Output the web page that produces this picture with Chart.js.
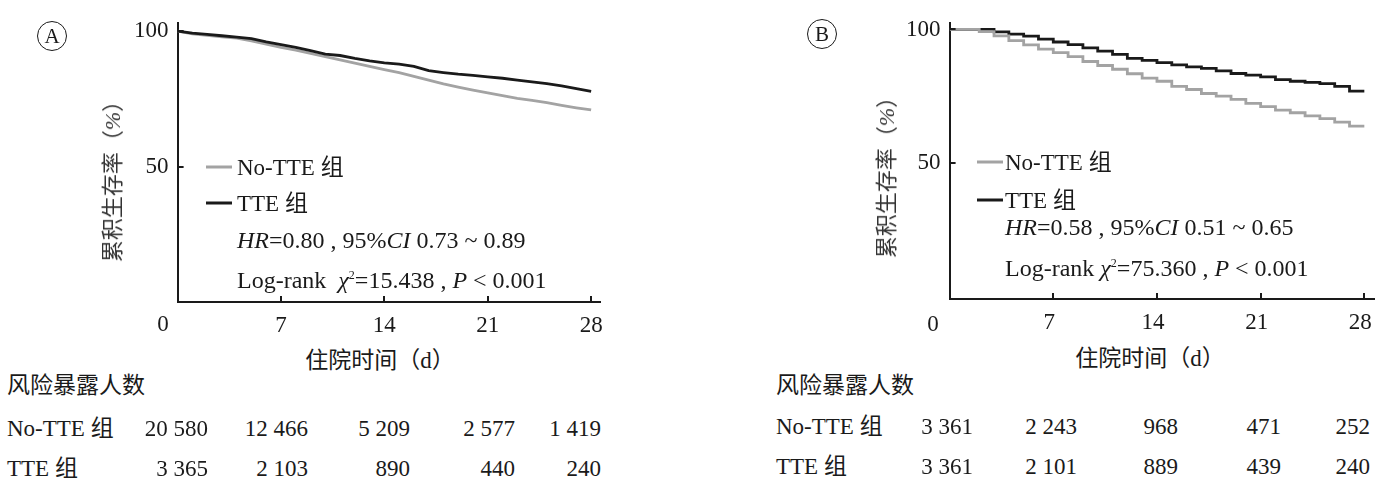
<!DOCTYPE html>
<html>
<head>
<meta charset="utf-8">
<script src="https://cdn.jsdelivr.net/npm/chart.js"></script>
<style>
    body {
        margin: 0;
        width: 1397px;
        height: 493px;
        background: #fff;
        overflow: hidden;
        position: relative;
        font-family: "Liberation Serif", "Noto Sans CJK SC", serif;
        color: #1a1a1a;
    }
    canvas { position: absolute; top: 0; }
    .t {
        position: absolute;
        white-space: nowrap;
        font-size: 23px;
        line-height: 1;
        transform: translateY(-50%);
    }
    .t.s { font-size: 24px; }
    .r { transform: translate(-100%, -50%); }
    .c { transform: translate(-50%, -50%); }
    .yt {
        position: absolute;
        white-space: nowrap;
        font-size: 22px;
        line-height: 1;
        color: #333;
        transform: translate(-50%, -50%) rotate(-90deg);
    }
    .circ {
        position: absolute;
        width: 28px;
        height: 28px;
        border: 1px solid #1a1a1a;
        border-radius: 50%;
        font-size: 21px;
        line-height: 28px;
        text-align: center;
        transform: translate(-50%, -50%);
    }
    .leg {
        position: absolute;
        height: 3px;
        width: 26px;
        transform: translateY(-50%);
    }
    sup { font-size: 12px; line-height: 0; vertical-align: 9px; }
</style>
</head>
<body>

<canvas id="chartA" width="640" height="345" style="left:0"></canvas>
<canvas id="chartB" width="625" height="345" style="left:772px"></canvas>

<script>

// ============================================
// DATA
// ============================================

const days = [0, 1, 2, 3, 4, 5, 6, 7, 8, 9, 10, 11, 12, 13, 14,
    15, 16, 17, 18, 19, 20, 21, 22, 23, 24, 25, 26, 27, 28];

// panel A survival (%)
const noTteA = [100, 99.0, 98.4, 97.9, 97.4, 96.4, 95.2, 94.0, 93.0, 91.8, 90.6,
    89.4, 88.2, 87.0, 85.8, 84.7, 83.3, 81.9, 80.5, 79.3, 78.2, 77.2, 76.2,
    75.2, 74.4, 73.6, 72.6, 71.7, 70.9];
const tteA = [100, 99.3, 98.8, 98.3, 97.8, 97.2, 96.0, 95.0, 94.0, 92.8, 91.5,
    91.0, 89.9, 89.0, 88.3, 87.8, 87.0, 85.4, 84.7, 84.1, 83.7, 83.1, 82.6,
    81.9, 81.3, 80.6, 79.8, 78.8, 77.8];

// panel B survival (%)
const noTteB = [100, 100, 99.2, 97.6, 95.8, 94.2, 92.6, 91.3, 89.8, 88.0, 86.5,
    85.1, 83.4, 81.8, 80.6, 78.7, 77.5, 76.0, 75.0, 73.8, 72.3, 71.1, 69.8,
    68.8, 67.6, 66.6, 65.3, 63.8, 63.8];
const tteB = [100, 100, 100, 99.1, 98.25, 97.5, 96.4, 95.3, 94.3, 93.1, 91.9,
    90.7, 89.2, 88.4, 87.6, 86.7, 86.0, 85.4, 84.5, 83.5, 82.9, 82.2, 81.2,
    80.6, 80.2, 79.7, 78.7, 76.9, 76.9];

const xTicks = [0, 7, 14, 21, 28];
const yTicks = [50, 100];

const riskRows = ['No-TTE 组', 'TTE 组'];
const riskNoTteA = ['20 580', '12 466', '5 209', '2 577', '1 419'];
const riskTteA = ['3 365', '2 103', '890', '440', '240'];
const riskNoTteB = ['3 361', '2 243', '968', '471', '252'];
const riskTteB = ['3 361', '2 101', '889', '439', '240'];

const GRAY = '#a3a3a3';
const BLACK = '#1a1a1a';
const FONT = 'Liberation Serif';

// ============================================
// INWARD TICK MARKS
// ============================================

const innerTicks = {
    id: 'innerTicks',
    afterDraw(chart) {
        const c = chart.ctx;
        const xs = chart.scales.x;
        const ys = chart.scales.y;
        c.save();
        c.strokeStyle = BLACK;
        c.lineWidth = 2;
        c.beginPath();
        xTicks.filter(v => v > 0).forEach(v => {
            const px = Math.round(xs.getPixelForValue(v));
            c.moveTo(px, ys.bottom);
            c.lineTo(px, ys.bottom - 6);
        });
        yTicks.forEach(v => {
            const py = Math.round(ys.getPixelForValue(v));
            c.moveTo(xs.left, py);
            c.lineTo(xs.left + 6, py);
        });
        c.stroke();
        c.restore();
    }
};

// ============================================
// CREATE CHARTS
// ============================================

function kmChart(id, noTte, tte, opt) {

    const series = [
        {
            label: 'No-TTE 组',
            data: days.map((d, i) => ({ x: d, y: noTte[i] })),
            borderColor: GRAY,
            order: opt.grayOnTop ? 0 : 1
        },
        {
            label: 'TTE 组',
            data: days.map((d, i) => ({ x: d, y: tte[i] })),
            borderColor: BLACK,
            order: opt.grayOnTop ? 1 : 0
        }
    ];

    series.forEach(s => {
        s.borderWidth = 2.8;
        s.pointRadius = 0;
        s.fill = false;
        s.tension = 0;
        s.stepped = opt.stepped;
    });

    return new Chart(document.getElementById(id), {
        type: 'line',
        data: { datasets: series },
        options: {
            responsive: false,
            animation: false,
            layout: { padding: { left: 0, top: opt.top, right: opt.right, bottom: 0 } },
            plugins: {
                legend: { display: false },
                tooltip: { enabled: false }
            },
            scales: {
                x: {
                    type: 'linear',
                    min: 0,
                    max: opt.xMax,
                    afterBuildTicks: s => { s.ticks = xTicks.map(v => ({ value: v })); },
                    afterFit: s => { s.height = opt.xHeight; },
                    grid: { display: false, drawTicks: false },
                    border: { color: BLACK, width: 2 },
                    ticks: {
                        padding: 10,
                        labelOffset: opt.labelOffset,
                        color: BLACK,
                        font: { family: FONT, size: 23 },
                        callback: v => (v === 0 ? '' : v)
                    }
                },
                y: {
                    min: opt.yMin,
                    max: opt.yMax,
                    afterBuildTicks: s => { s.ticks = yTicks.map(v => ({ value: v })); },
                    afterFit: s => { s.width = 177.6; },
                    grid: { display: false, drawTicks: false },
                    border: { color: BLACK, width: 2 },
                    ticks: {
                        padding: 9,
                        color: BLACK,
                        font: { family: FONT, size: 23 }
                    }
                }
            }
        },
        plugins: [innerTicks]
    });
}

kmChart('chartA', noTteA, tteA, {
    top: 23, right: 40, xHeight: 43, xMax: 28.6,
    yMin: 0, yMax: 103, stepped: false, grayOnTop: false, labelOffset: 0
});

kmChart('chartB', noTteB, tteB, {
    top: 21, right: 22.3, xHeight: 46, xMax: 28.7,
    yMin: -1, yMax: 102.5, stepped: 'before', grayOnTop: true, labelOffset: -4
});

// ============================================
// TEXT: LABELS, LEGEND, STATISTICS, RISK TABLE
// ============================================

function addText(html, x, y, cls) {
    const el = document.createElement('div');
    el.className = cls || 't';
    el.style.left = x + 'px';
    el.style.top = y + 'px';
    el.innerHTML = html;
    document.body.appendChild(el);
}

function addLegendLine(x, y, color) {
    const el = document.createElement('div');
    el.className = 'leg';
    el.style.left = x + 'px';
    el.style.top = y + 'px';
    el.style.background = color;
    document.body.appendChild(el);
}

function panelText(p) {
    addText(p.letter, p.circle[0], p.circle[1], 'circ');
    addText('累积生存率（<i>%</i>）', p.yTitle[0], p.yTitle[1], 'yt');
    addText('住院时间（d）', p.xTitle[0], p.xTitle[1], 't c');
    addText('0', p.zero[0], p.zero[1], 't c');

    addLegendLine(p.legX, p.legY[0], GRAY);
    addLegendLine(p.legX, p.legY[1], BLACK);
    addText(riskRows[0], p.textX, p.legY[0]);
    addText(riskRows[1], p.textX, p.legY[1]);
    addText(p.hr, p.textX, p.legY[2], 't s');
    addText(p.logrank, p.textX, p.legY[3], 't s');

    addText('风险暴露人数', p.tableX, p.rowY[0]);
    addText(riskRows[0], p.tableX, p.rowY[1]);
    addText(riskRows[1], p.tableX, p.rowY[2]);
    p.noTte.forEach((v, i) => addText(v, p.colRight[i], p.rowY[1], 't r'));
    p.tte.forEach((v, i) => addText(v, p.colRight[i], p.rowY[2], 't r'));
}

panelText({
    letter: 'A', circle: [52, 36],
    yTitle: [113, 176], xTitle: [380, 360], zero: [163, 323],
    legX: 206, textX: 237, legY: [167, 203, 240, 280],
    hr: '<i>HR</i>=0.80 , 95%<i>CI</i> 0.73 ~ 0.89',
    logrank: 'Log-rank&nbsp; <i>χ</i><sup>2</sup>=15.438 , <i>P</i> &lt; 0.001',
    tableX: 7, rowY: [385, 428, 468],
    colRight: [208, 308, 410, 515, 601],
    noTte: riskNoTteA, tte: riskTteA
});

panelText({
    letter: 'B', circle: [822, 34],
    yTitle: [887, 172], xTitle: [1150, 358], zero: [933, 323],
    legX: 977, textX: 1005, legY: [162, 200, 227, 268],
    hr: '<i>HR</i>=0.58 , 95%<i>CI</i> 0.51 ~ 0.65',
    logrank: 'Log-rank <i>χ</i><sup>2</sup>=75.360 , <i>P</i> &lt; 0.001',
    tableX: 776, rowY: [385, 426, 466],
    colRight: [973, 1077, 1178, 1281, 1370],
    noTte: riskNoTteB, tte: riskTteB
});

</script>
</body>
</html>
